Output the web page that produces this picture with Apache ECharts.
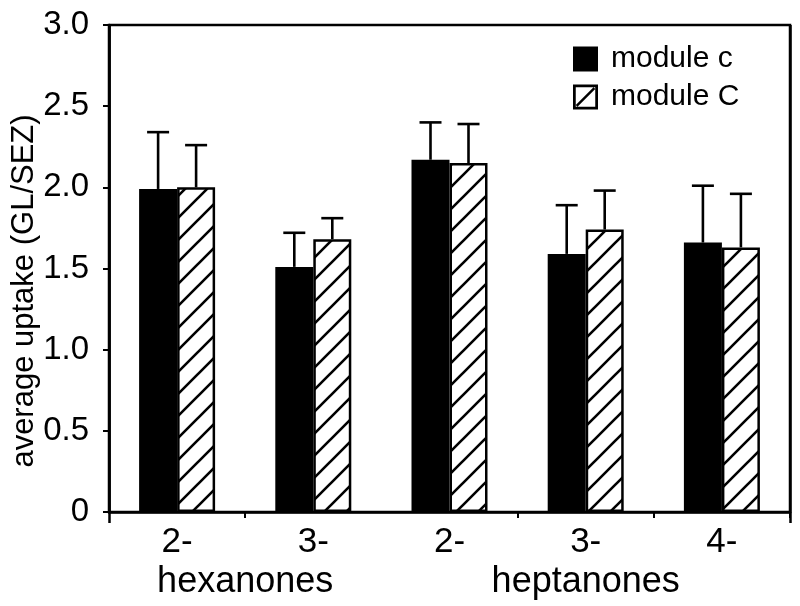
<!DOCTYPE html>
<html>
<head>
<meta charset="utf-8">
<script src="https://cdn.jsdelivr.net/npm/echarts@6/dist/echarts.min.js"></script>
<style>
html,body{margin:0;padding:0;background:#fff;}
#chart{width:800px;height:606px;}
</style>
</head>
<body>
<div id="chart"></div>
<script>
// ---- data ----
const categories = ['2-', '3-', '2-', '3-', '4-'];
const groupLabels = ['hexanones', 'heptanones'];
const seriesNames = ['module c', 'module C'];
const yAxisTitle = 'average uptake (GL/SEZ)';
const moduleSmallC = [1.99, 1.51, 2.17, 1.59, 1.66];
const moduleBigC = [2.00, 1.68, 2.15, 1.74, 1.63];
const errTopSmallC = [2.34, 1.72, 2.40, 1.89, 2.01];
const errTopBigC = [2.26, 1.81, 2.39, 1.98, 1.96];
const yTicks = [0, 0.5, 1.0, 1.5, 2.0, 2.5, 3.0];

// ---- hatch pattern ----
function makeHatch() {
  const T = 22;
  const c = document.createElement('canvas');
  c.width = T; c.height = T;
  const ctx = c.getContext('2d');
  ctx.fillStyle = '#fff';
  ctx.fillRect(0, 0, T, T);
  ctx.strokeStyle = '#000';
  ctx.lineWidth = 2.6;
  ctx.beginPath();
  ctx.moveTo(-2, T + 2); ctx.lineTo(T + 2, -2);
  ctx.moveTo(-2, 2); ctx.lineTo(2, -2);
  ctx.moveTo(T - 2, T + 2); ctx.lineTo(T + 2, T - 2);
  ctx.stroke();
  return c;
}
const hatch = makeHatch();

const BAR_W = 38;
const FONT = '"Liberation Sans", Arial, Helvetica, sans-serif';

const errData = [];
categories.forEach((c, i) => {
  errData.push([i, moduleSmallC[i], errTopSmallC[i], -1]);
  errData.push([i, moduleBigC[i], errTopBigC[i], 1]);
});

const legendIconHatch = 'path://M0,0 L20,0 L20,20 L0,20 Z M2.2,2.2 L2.2,17.8 L17.8,17.8 L17.8,2.2 Z M2.2,16.4 L16.4,2.2 L17.8,3.6 L3.6,17.8 Z';

const chart = echarts.init(document.getElementById('chart'), null, {renderer: 'canvas'});
const option = {
  animation: false,
  backgroundColor: '#fff',
  textStyle: {fontFamily: FONT, color: '#000'},
  grid: {left: 109, right: 10, top: 25, bottom: 94, show: true, borderColor: '#000', borderWidth: 2.5, backgroundColor: 'transparent'},
  legend: {
    orient: 'vertical',
    left: 568, top: 39,
    itemWidth: 25, itemHeight: 25, itemGap: 8,
    textStyle: {fontSize: 30, color: '#000', fontFamily: FONT, padding: [0, 0, 0, 8]},
    data: [
      {name: seriesNames[0], icon: 'rect', itemStyle: {color: '#000', borderWidth: 0}},
      {name: seriesNames[1], icon: legendIconHatch, itemStyle: {color: '#000', borderWidth: 0}}
    ]
  },
  graphic: [{
    type: 'text', rotation: Math.PI / 2,
    x: 24, y: 291,
    style: {text: yAxisTitle, font: '31px ' + FONT, fill: '#000', align: 'center', verticalAlign: 'middle'}
  }],
  xAxis: [
    {
      type: 'category', data: categories, position: 'bottom',
      axisLine: {show: true, lineStyle: {color: '#000', width: 2.5}},
      axisTick: {show: true, inside: false, length: 6, lineStyle: {color: '#000', width: 2}, interval: (i) => i === 1 || i === 3 || i === 4},
      axisLabel: {fontSize: 35, color: '#000', margin: 13, fontFamily: FONT},
      splitLine: {show: false}
    },
    {
      type: 'category', data: categories, position: 'bottom',
      axisLine: {show: false},
      axisTick: {show: true, length: 11, lineStyle: {color: '#000', width: 2.5}, interval: (i) => i === 2},
      axisLabel: {show: false},
      splitLine: {show: true, interval: (i) => i === 2, lineStyle: {color: '#000', width: 2.5}}
    },
    {
      type: 'value', min: 0, max: 10, interval: 1, position: 'bottom', offset: 46,
      axisLine: {show: false}, axisTick: {show: false}, splitLine: {show: false},
      axisLabel: {
        fontSize: 36, color: '#000', fontFamily: FONT, margin: 6, showMinLabel: true, showMaxLabel: true,
        formatter: (v) => v === 2 ? groupLabels[0] : (v === 7 ? groupLabels[1] : '')
      }
    }
  ],
  yAxis: {
    type: 'value', min: 0, max: 3, interval: 0.5,
    axisLine: {show: true, lineStyle: {color: '#000', width: 2.5}},
    axisTick: {show: true, inside: false, length: 6, lineStyle: {color: '#000', width: 2}},
    axisLabel: {fontSize: 33, color: '#000', margin: 20, fontFamily: FONT,
      formatter: (v) => yTicks.indexOf(v) >= 0 ? (v === 0 ? '0' : v.toFixed(1)) : ''},
    splitLine: {show: false}
  },
  series: [
    {
      name: seriesNames[0], type: 'bar', data: moduleSmallC, barWidth: BAR_W, barGap: '0%',
      itemStyle: {color: '#000'}, z: 2
    },
    {
      name: seriesNames[1], type: 'bar', data: moduleBigC, barWidth: BAR_W, barGap: '0%',
      itemStyle: {color: {image: hatch, repeat: 'repeat'}, borderColor: '#000', borderWidth: 2.5}, z: 2
    },
    {
      type: 'custom', data: errData, z: 1, silent: true,
      renderItem: function (params, api) {
        const base = api.coord([api.value(0), api.value(1)]);
        const top = api.coord([api.value(0), api.value(2)]);
        const x = base[0] + api.value(3) * BAR_W / 2;
        const cap = 11;
        const style = {stroke: '#000', lineWidth: 2.6};
        return {
          type: 'group',
          children: [
            {type: 'line', shape: {x1: x, y1: base[1], x2: x, y2: top[1]}, style: style},
            {type: 'line', shape: {x1: x - cap, y1: top[1], x2: x + cap, y2: top[1]}, style: style}
          ]
        };
      }
    }
  ]
};
chart.setOption(option);
</script>
</body>
</html>
